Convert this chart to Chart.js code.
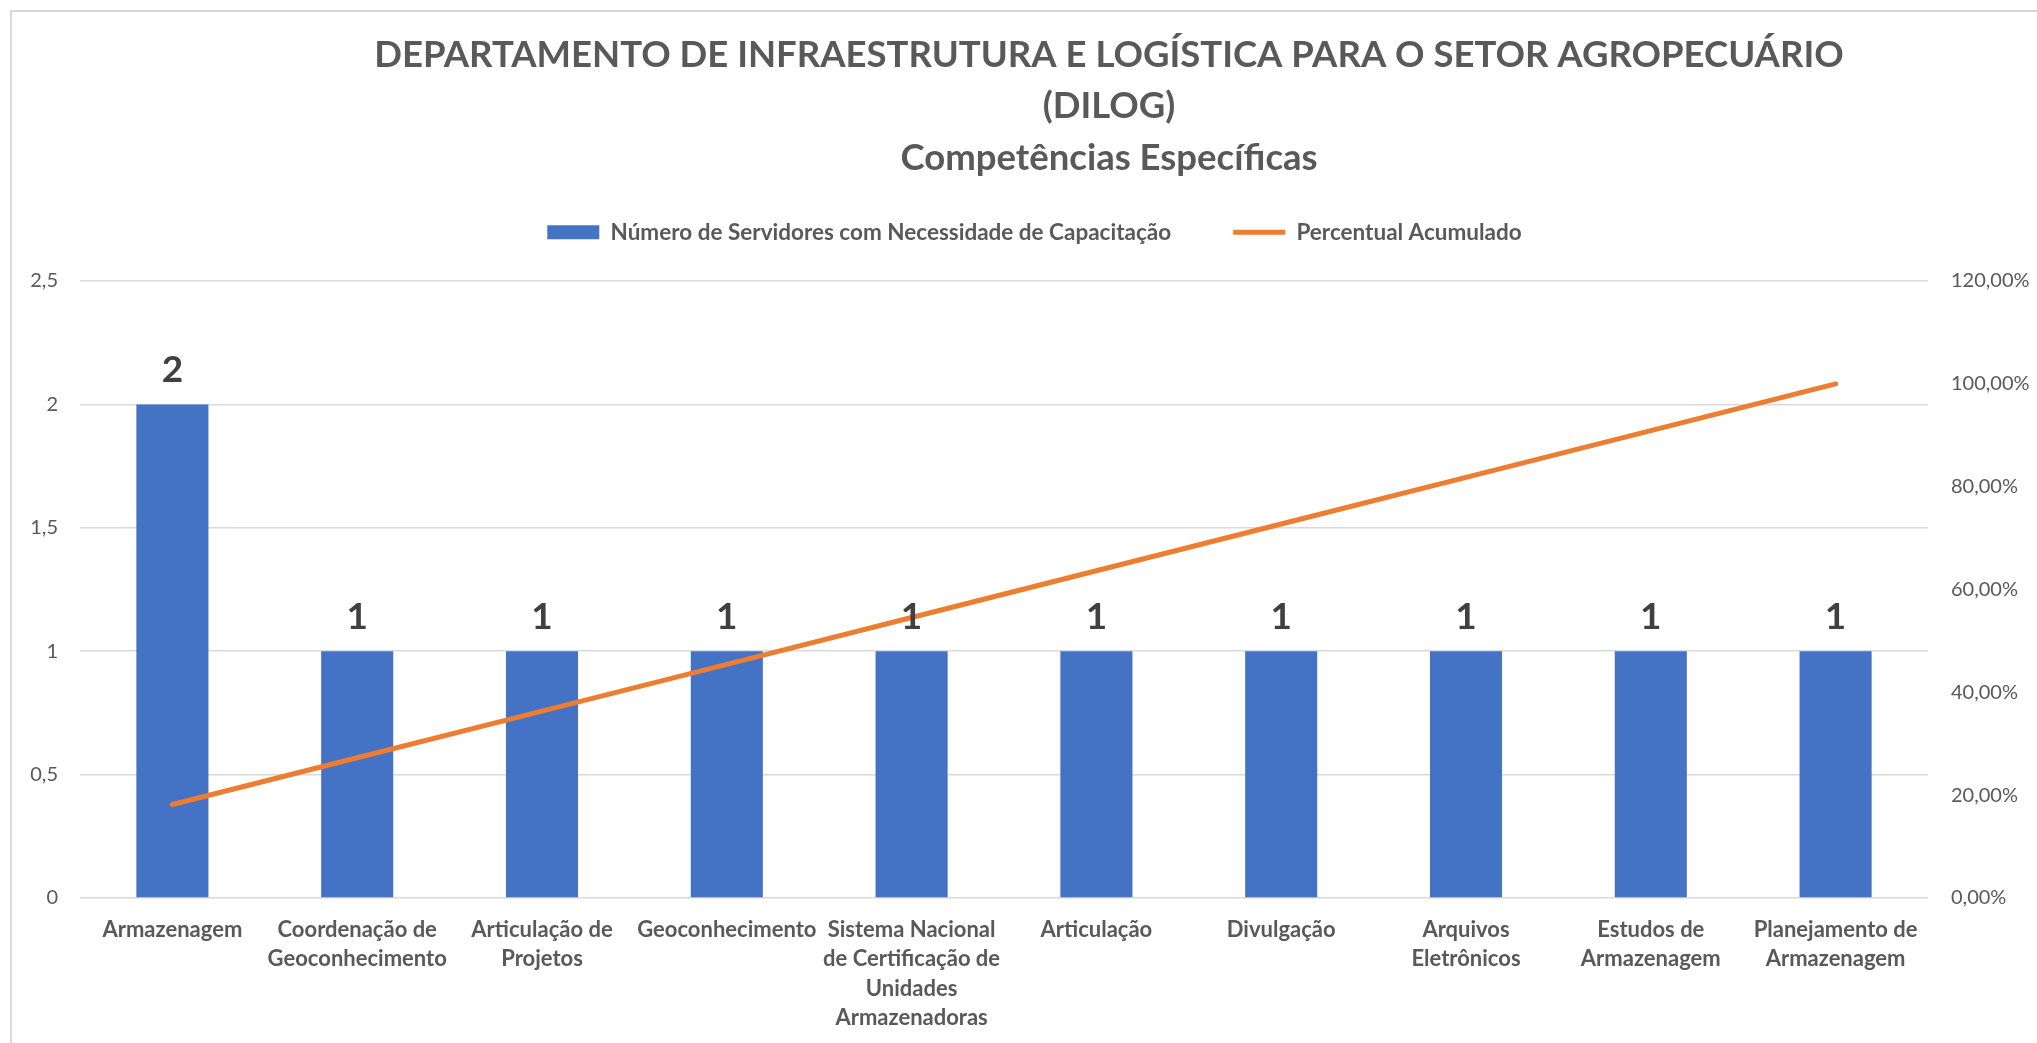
<!DOCTYPE html>
<html>
<head>
<meta charset="utf-8">
<script src="https://cdn.jsdelivr.net/npm/chart.js@4.4.1/dist/chart.umd.min.js"></script>
<style>
  html, body { margin: 0; padding: 0; background: #fff; overflow: hidden; }
  #frame { position: absolute; left: 10px; top: 10px; width: 2100px; height: 1100px; border: 2px solid #d9d9d9; }
  #wrap { position: absolute; left: 0; top: 0; width: 2037px; height: 1043px; }
</style>
</head>
<body>
<div id="frame"></div>
<div id="wrap"><canvas id="paretoChart"></canvas></div>
<script>
var categories = [
  "Armazenagem",
  ["Coordenação de", "Geoconhecimento"],
  ["Articulação de", "Projetos"],
  "Geoconhecimento",
  ["Sistema Nacional", "de Certificação de", "Unidades", "Armazenadoras"],
  "Articulação",
  "Divulgação",
  ["Arquivos", "Eletrônicos"],
  ["Estudos de", "Armazenagem"],
  ["Planejamento de", "Armazenagem"]
];
var servidores = [2, 1, 1, 1, 1, 1, 1, 1, 1, 1];
var percentual = [18.18, 27.27, 36.36, 45.45, 54.55, 63.64, 72.73, 81.82, 90.91, 100];
var titleLines = [
  "DEPARTAMENTO DE INFRAESTRUTURA E LOGÍSTICA PARA O SETOR AGROPECUÁRIO",
  "(DILOG)",
  "Competências Específicas"
];

var gray = "#595959";
var font = "Lato";

// title is not centred on the canvas in the original, so it is drawn by hand
var titlePlugin = {
  id: "manualTitle",
  afterDraw: function(chart) {
    var c = chart.ctx;
    c.save();
    c.fillStyle = gray;
    c.font = "bold 36.5px " + font;
    c.textAlign = "center";
    c.textBaseline = "alphabetic";
    var ys = [67, 118, 170];
    titleLines.forEach(function(t, i) { c.fillText(t, 1109, ys[i]); });
    c.restore();
  }
};

// value labels above the bars
var barLabels = {
  id: "barLabels",
  afterDatasetsDraw: function(chart) {
    var c = chart.ctx;
    var meta = chart.getDatasetMeta(0);
    c.save();
    c.fillStyle = "#404040";
    c.font = "bold 37px " + font;
    c.textAlign = "center";
    c.textBaseline = "alphabetic";
    meta.data.forEach(function(bar, i) {
      c.fillText(String(servidores[i]), bar.x, bar.y - 22);
    });
    c.restore();
  }
};

var ctx = document.getElementById("paretoChart").getContext("2d");
var myChart = new Chart(ctx, {
  type: "bar",
  data: {
    labels: categories,
    datasets: [{
      label: "Número de Servidores com Necessidade de Capacitação",
      data: servidores,
      backgroundColor: "#4472c4",
      borderWidth: 0,
      barPercentage: 0.39,
      categoryPercentage: 1,
      pointStyle: "rect",
      yAxisID: "y",
      order: 1
    }, {
      type: "line",
      label: "Percentual Acumulado",
      data: percentual,
      borderColor: "#ed7d31",
      backgroundColor: "#ed7d31",
      borderWidth: 5,
      borderCapStyle: "round",
      pointRadius: 0,
      pointStyle: "line",
      tension: 0,
      yAxisID: "y1",
      order: 0
    }]
  },
  options: {
    responsive: true,
    maintainAspectRatio: false,
    animation: false,
    // negative right padding nudges the centred legend to the right
    layout: { padding: { top: 159, left: 0, right: -32, bottom: 0 } },
    plugins: {
      title: { display: false },
      subtitle: {
        display: true,
        text: "",
        weight: 500,
        font: { size: 10, lineHeight: 1.2 },
        padding: { top: 0, bottom: 15.5 }
      },
      legend: {
        position: "top",
        labels: {
          usePointStyle: true,
          pointStyleWidth: 52,
          boxHeight: 14,
          padding: 62,
          color: gray,
          font: { family: font, size: 22.5, weight: "bold" },
          sort: function(a, b) { return a.datasetIndex - b.datasetIndex; }
        }
      },
      tooltip: { enabled: false }
    },
    scales: {
      x: {
        grid: { display: false, drawTicks: false },
        border: { display: false },
        ticks: {
          color: gray,
          maxRotation: 0,
          autoSkip: false,
          padding: 17,
          font: { family: font, size: 22, weight: "bold", lineHeight: 1.34 }
        },
        afterFit: function(s) { s.height = 145; }
      },
      y: {
        position: "left",
        min: 0,
        max: 2.5,
        grid: { color: "#d9d9d9", lineWidth: 1.5, drawTicks: false },
        border: { display: false },
        ticks: {
          stepSize: 0.5,
          padding: 22,
          color: gray,
          font: { family: font, size: 20 },
          callback: function(v) { return String(v).replace(".", ","); }
        },
        afterFit: function(s) { s.width = 80; }
      },
      y1: {
        position: "right",
        min: 0,
        max: 120,
        grid: { display: false, drawTicks: false },
        border: { display: false },
        ticks: {
          stepSize: 20,
          padding: 23,
          color: gray,
          font: { family: font, size: 20 },
          callback: function(v) { return v.toFixed(2).replace(".", ",") + "%"; }
        },
        afterFit: function(s) { s.width = 141; }
      }
    }
  },
  plugins: [titlePlugin, barLabels]
});
</script>
</body>
</html>
